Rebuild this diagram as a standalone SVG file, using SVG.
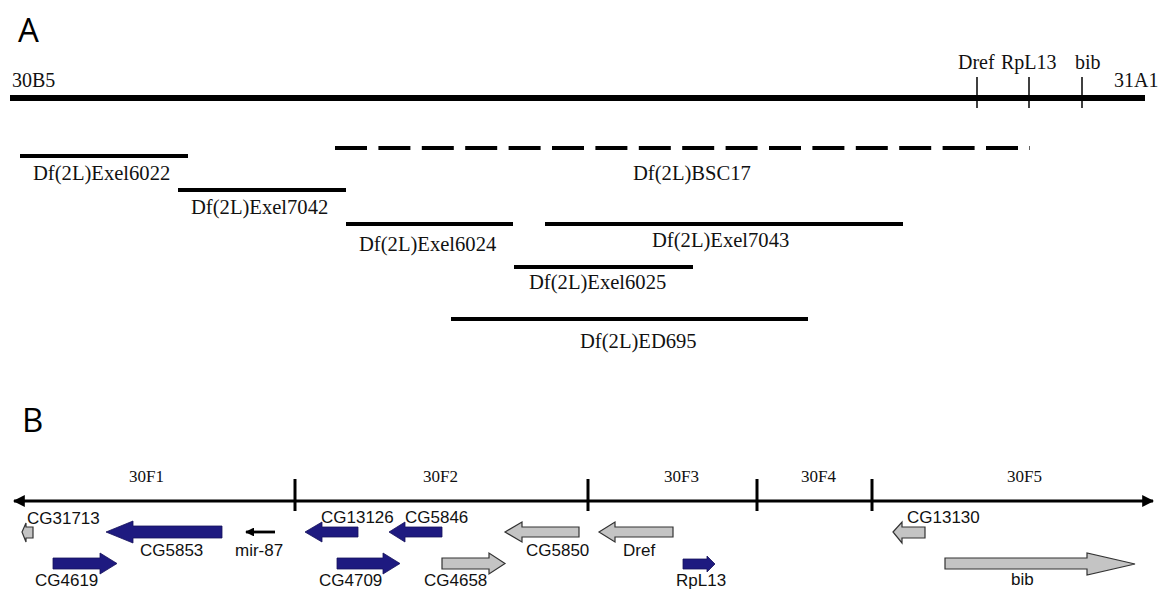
<svg xmlns="http://www.w3.org/2000/svg" width="1163" height="590" viewBox="0 0 1163 590">
<defs>
<style>
.panel{font-family:"Open Sans","DejaVu Sans",sans-serif;font-size:33px;fill:#000}
.tm{font-family:"Liberation Serif","Times New Roman",serif;font-size:20px;fill:#111}
.df{font-family:"Liberation Serif","Times New Roman",serif;font-size:20.6px;fill:#111}
.band{font-family:"Liberation Serif","Times New Roman",serif;font-size:17px;fill:#111}
.gl{font-family:"Liberation Sans",Arial,sans-serif;font-size:17px;fill:#111}
.del{stroke:#000;stroke-width:4;fill:none}
.tick{stroke:#000;stroke-width:1.5}
.axtick{stroke:#000;stroke-width:3}
.blue{fill:#1e1a80;stroke:#15125a;stroke-width:0.8}
.gray{fill:#c4c4c4;stroke:#333;stroke-width:1.2}
</style>
<marker id="axhead" viewBox="0 0 10 10" refX="9" refY="5" markerWidth="4" markerHeight="4" orient="auto-start-reverse" markerUnits="strokeWidth">
<path d="M0,0 L10,5 L0,10 z" fill="#000"/>
</marker>
<marker id="mirhead" viewBox="0 0 10 10" refX="9" refY="5" markerWidth="3.2" markerHeight="3.2" orient="auto" markerUnits="strokeWidth">
<path d="M0,0 L10,5 L0,10 z" fill="#000"/>
</marker>
</defs>
<rect width="1163" height="590" fill="#fff"/>

<text class="panel" x="18" y="42">A</text>
<text class="panel" x="22" y="432">B</text>

<g id="chromosome">
<line x1="10" y1="98" x2="1145" y2="98" stroke="#000" stroke-width="6"/>
<line class="tick" x1="977" y1="77" x2="977" y2="108"/>
<line class="tick" x1="1029" y1="77" x2="1029" y2="108"/>
<line class="tick" x1="1082" y1="77" x2="1082" y2="108"/>
<text class="tm" x="12" y="87">30B5</text>
<text class="tm" x="1114" y="87">31A1</text>
<text class="tm" x="958" y="69">Dref</text>
<text class="tm" x="1001" y="69">RpL13</text>
<text class="tm" x="1075" y="69">bib</text>
</g>

<g id="deletions">
<g id="Exel6022"><line class="del" x1="20" y1="156" x2="188" y2="156"/><text class="df" x="33" y="180">Df(2L)Exel6022</text></g>
<g id="Exel7042"><line class="del" x1="178" y1="190" x2="346" y2="190"/><text class="df" x="191" y="214">Df(2L)Exel7042</text></g>
<g id="BSC17"><line class="del" x1="335" y1="148" x2="1030" y2="148" stroke-dasharray="32 11.4"/><text class="df" x="633" y="180">Df(2L)BSC17</text></g>
<g id="Exel6024"><line class="del" x1="346" y1="224" x2="513" y2="224"/><text class="df" x="359" y="251">Df(2L)Exel6024</text></g>
<g id="Exel7043"><line class="del" x1="545" y1="224" x2="903" y2="224"/><text class="df" x="652" y="247">Df(2L)Exel7043</text></g>
<g id="Exel6025"><line class="del" x1="514" y1="267" x2="693" y2="267"/><text class="df" x="529" y="289">Df(2L)Exel6025</text></g>
<g id="ED695"><line class="del" x1="451" y1="319" x2="808" y2="319"/><text class="df" x="580" y="348">Df(2L)ED695</text></g>
</g>

<g id="axis">
<line x1="14" y1="501" x2="1153" y2="501" stroke="#000" stroke-width="3" marker-start="url(#axhead)" marker-end="url(#axhead)"/>
<line class="axtick" x1="295" y1="479" x2="295" y2="511"/>
<line class="axtick" x1="588" y1="479" x2="588" y2="511"/>
<line class="axtick" x1="757" y1="479" x2="757" y2="511"/>
<line class="axtick" x1="872" y1="479" x2="872" y2="511"/>
<text class="band" x="129" y="482">30F1</text>
<text class="band" x="423" y="482">30F2</text>
<text class="band" x="664" y="482">30F3</text>
<text class="band" x="801" y="482">30F4</text>
<text class="band" x="1007" y="482">30F5</text>
</g>

<g id="genes">
<g id="CG31713"><polygon class="gray" points="22,532 26,523 26,527 33,527 33,538 26,538 26,542"/><text class="gl" x="27" y="524">CG31713</text></g>
<g id="CG5853"><polygon class="blue" points="106,532 133,521 133,526 222,526 222,538 133,538 133,543"/><text class="gl" x="140" y="556">CG5853</text></g>
<g id="mir-87"><line x1="275" y1="532" x2="246" y2="532" stroke="#000" stroke-width="2.8" marker-end="url(#mirhead)"/><text class="gl" x="235" y="556">mir-87</text></g>
<g id="CG13126"><polygon class="blue" points="305,532 322,522 322,527 358,527 358,537 322,537 322,542"/><text class="gl" x="321" y="523">CG13126</text></g>
<g id="CG5846"><polygon class="blue" points="389,532 405,522 405,527 442,527 442,537 405,537 405,542"/><text class="gl" x="405" y="523">CG5846</text></g>
<g id="CG4619"><polygon class="blue" points="53,558 100,558 100,553 117,563.5 100,574 100,569 53,569"/><text class="gl" x="35" y="586">CG4619</text></g>
<g id="CG4709"><polygon class="blue" points="337,558 383,558 383,553 400,563.5 383,574 383,569 337,569"/><text class="gl" x="319" y="586">CG4709</text></g>
<g id="CG4658"><polygon class="gray" points="442,558 489,558 489,553 505,563.5 489,574 489,569 442,569"/><text class="gl" x="424" y="586">CG4658</text></g>
<g id="CG5850"><polygon class="gray" points="505,532 522,522 522,527 579,527 579,537 522,537 522,542"/><text class="gl" x="526" y="556">CG5850</text></g>
<g id="Dref"><polygon class="gray" points="599,532 615,522 615,527 673,527 673,537 615,537 615,542"/><text class="gl" x="623" y="556">Dref</text></g>
<g id="RpL13"><polygon class="blue" points="683,559 707,559 707,556 715,564 707,572 707,569 683,569"/><text class="gl" x="676" y="586">RpL13</text></g>
<g id="CG13130"><polygon class="gray" points="893,532 902,522 902,527 925,527 925,538 902,538 902,543"/><text class="gl" x="907" y="523">CG13130</text></g>
<g id="bib"><polygon class="gray" points="945,558 1087,558 1087,553 1135,564 1087,575 1087,569 945,569"/><text class="gl" x="1011" y="585">bib</text></g>
</g>
</svg>
